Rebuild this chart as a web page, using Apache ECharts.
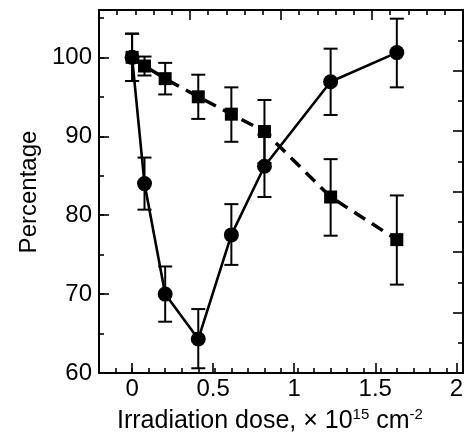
<!DOCTYPE html>
<html>
<head>
<meta charset="utf-8">
<script src="https://cdn.jsdelivr.net/npm/echarts@6/dist/echarts.min.js"></script>
<style>
html,body{margin:0;padding:0;background:#fff;}
#c{width:466px;height:441px;}
</style>
</head>
<body>
<div id="c"></div>
<script>
// ---- data ----
const dose = [0, 0.075, 0.2, 0.4, 0.6, 0.8, 1.2, 1.6];
const circleVals = [100, 84, 70, 64.3, 77.5, 86.2, 96.9, 100.6];
const circleLow  = [97, 80.7, 66.5, 60.6, 73.7, 82.3, 92.7, 96.2];
const circleHigh = [103, 87.3, 73.5, 68.1, 81.4, 90.2, 101.1, 104.9];
const squareVals = [100, 98.9, 97.3, 95, 92.8, 90.6, 82.3, 76.9];
const squareLow  = [97, 97.7, 95.3, 92.2, 89.3, 86.6, 77.4, 71.2];
const squareHigh = [103, 100.1, 99.3, 97.8, 96.2, 94.6, 87.1, 82.5];
const yTicks = [60, 70, 80, 90, 100];
const xTickLabels = ['0', '0.5', '1', '1.5', '2'];
const yTitle = 'Percentage';

const FONT = "'Liberation Sans', Arial, Helvetica, sans-serif";
const chart = echarts.init(document.getElementById('c'), null, {renderer: 'canvas'});

const circleData = dose.map((x, i) => [x, circleVals[i]]);
const squareData = dose.map((x, i) => [x, squareVals[i]]);
const circleErr = dose.map((x, i) => [x, circleLow[i], circleHigh[i]]);
const squareErr = dose.map((x, i) => [x, squareLow[i], squareHigh[i]]);

function errRender(params, api) {
  const x = api.value(0);
  const lo = api.coord([x, api.value(1)]);
  const hi = api.coord([x, api.value(2)]);
  const hw = 7;
  const st = {stroke: '#000', lineWidth: 2};
  return {
    type: 'group',
    children: [
      {type: 'line', shape: {x1: lo[0], y1: lo[1], x2: hi[0], y2: hi[1]}, style: st},
      {type: 'line', shape: {x1: lo[0] - hw, y1: lo[1], x2: lo[0] + hw, y2: lo[1]}, style: st},
      {type: 'line', shape: {x1: hi[0] - hw, y1: hi[1], x2: hi[0] + hw, y2: hi[1]}, style: st}
    ]
  };
}

const GL = 99, GR = 3, GT = 10, GB = 68;
const plotW = 466 - GL - GR;
const xMin = -0.2, xMax = 2;
const grid2Left = GL + (0 - xMin) / (xMax - xMin) * plotW;

const tickStyle = {color: '#000', width: 1.6};

const option = {
  animation: false,
  backgroundColor: '#fff',
  grid: [
    {left: GL, right: GR, top: GT, bottom: GB, containLabel: false},
    {left: grid2Left, right: GR, top: GT, bottom: GB, containLabel: false}
  ],
  xAxis: [
    { // minor ticks bottom + frame line
      type: 'value', gridIndex: 0, position: 'bottom', min: xMin, max: xMax, interval: 0.1,
      axisLine: {show: true, onZero: false, lineStyle: {color: '#000', width: 2}},
      axisTick: {show: true, inside: true, length: 5, lineStyle: tickStyle},
      axisLabel: {show: false}, splitLine: {show: false}
    },
    { // top axis (separate scale)
      type: 'value', gridIndex: 0, position: 'top', min: -1, max: 3, interval: 1,
      axisLine: {show: true, onZero: false, lineStyle: {color: '#000', width: 2}},
      axisTick: {show: true, inside: true, length: 10, lineStyle: tickStyle},
      minorTick: {show: true, splitNumber: 5, length: 5, lineStyle: tickStyle},
      axisLabel: {show: false}, splitLine: {show: false}, minorSplitLine: {show: false}
    },
    { // major ticks bottom with labels
      type: 'value', gridIndex: 1, position: 'bottom', min: 0, max: 2, interval: 0.5,
      axisLine: {show: false, onZero: false},
      axisTick: {show: true, inside: true, length: 10, lineStyle: tickStyle},
      axisLabel: {show: true, margin: 4, color: '#000', fontFamily: FONT, fontSize: 24,
        alignMinLabel: 'center', alignMaxLabel: 'center',
        formatter: (v) => { const i = Math.round(v / 0.5); return xTickLabels[i] !== undefined ? xTickLabels[i] : ''; }},
      splitLine: {show: false}
    }
  ],
  yAxis: [
    { // major left with labels
      type: 'value', gridIndex: 0, position: 'left', min: 60, max: 106, interval: 10,
      axisLine: {show: true, onZero: false, lineStyle: {color: '#000', width: 2}},
      axisTick: {show: true, inside: true, length: 10, lineStyle: tickStyle},
      axisLabel: {show: true, margin: 7, color: '#000', fontFamily: FONT, fontSize: 24,
        formatter: (v) => yTicks.indexOf(Math.round(v * 1000) / 1000) >= 0 ? String(v) : ''},
      splitLine: {show: false}
    },
    { // minor left ticks
      type: 'value', gridIndex: 0, position: 'left', min: 60, max: 106, interval: 5,
      axisLine: {show: false, onZero: false},
      axisTick: {show: true, inside: true, length: 5, lineStyle: tickStyle},
      axisLabel: {show: false}, splitLine: {show: false}
    },
    { // right axis (separate scale)
      type: 'value', gridIndex: 0, position: 'right', min: 0, max: 6, interval: 1,
      axisLine: {show: true, onZero: false, lineStyle: {color: '#000', width: 2}},
      axisTick: {show: true, inside: true, length: 10, lineStyle: tickStyle},
      minorTick: {show: true, splitNumber: 2, length: 5, lineStyle: tickStyle},
      axisLabel: {show: false}, splitLine: {show: false}, minorSplitLine: {show: false}
    },
    { // dummy for grid 2
      type: 'value', gridIndex: 1, min: 60, max: 106, show: false
    }
  ],
  graphic: [
    {
      type: 'text', x: 29, y: 192, rotation: Math.PI / 2,
      style: {text: yTitle, fill: '#000', font: '24px ' + FONT, fontSize: 24, fontFamily: FONT,
        align: 'center', verticalAlign: 'middle', textAlign: 'center', textVerticalAlign: 'middle'}
    },
    {
      type: 'text', x: 117, y: 421,
      style: {
        text: '{n|Irradiation dose, × 10}{s|15}{n| cm}{s|-2}',
        fill: '#000', fontFamily: FONT, fontSize: 25,
        align: 'left', verticalAlign: 'middle', textAlign: 'left', textVerticalAlign: 'middle',
        rich: {
          n: {fontSize: 25, fontFamily: FONT, fill: '#000', lineHeight: 28, verticalAlign: 'middle'},
          s: {fontSize: 15, fontFamily: FONT, fill: '#000', lineHeight: 15, verticalAlign: 'top'}
        }
      }
    }
  ],
  series: [
    {
      type: 'custom', xAxisIndex: 0, yAxisIndex: 0, renderItem: errRender,
      data: circleErr, z: 2, encode: {x: 0, y: [1, 2]}, silent: true
    },
    {
      type: 'custom', xAxisIndex: 0, yAxisIndex: 0, renderItem: errRender,
      data: squareErr, z: 2, encode: {x: 0, y: [1, 2]}, silent: true
    },
    {
      type: 'line', xAxisIndex: 0, yAxisIndex: 0, data: circleData, z: 3,
      symbol: 'circle', symbolSize: 15,
      itemStyle: {color: '#000'},
      lineStyle: {color: '#000', width: 2.6, type: 'solid'}
    },
    {
      type: 'line', xAxisIndex: 0, yAxisIndex: 0, data: squareData, z: 4,
      symbol: 'rect', symbolSize: 13,
      itemStyle: {color: '#000'},
      lineStyle: {color: '#000', width: 3.5, type: [13, 8]}
    }
  ]
};
chart.setOption(option);
</script>
</body>
</html>
